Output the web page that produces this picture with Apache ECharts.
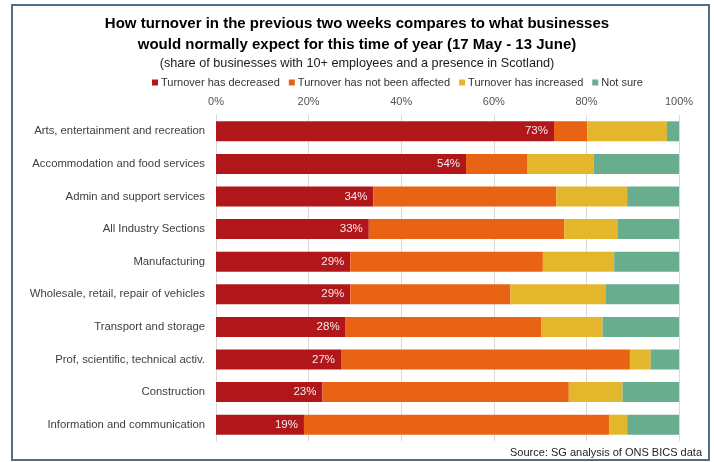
<!DOCTYPE html>
<html>
<head>
<meta charset="utf-8">
<script src="https://cdn.jsdelivr.net/npm/echarts@6/dist/echarts.min.js"></script>
<style>
  html, body { margin: 0; padding: 0; background: #fff; }
  #chart { width: 714px; height: 462px; }
</style>
</head>
<body>
<div id="chart"></div>
<script>
// Industry sections, top to bottom
var categories = [
  'Arts, entertainment and recreation',
  'Accommodation and food services',
  'Admin and support services',
  'All Industry Sections',
  'Manufacturing',
  'Wholesale, retail, repair of vehicles',
  'Transport and storage',
  'Prof, scientific, technical activ.',
  'Construction',
  'Information and communication'
];

// Share of businesses (%) per turnover response
var decreased   = [73, 54, 34, 33, 29, 29, 28, 27, 23, 19];
var notAffected = [7.2, 13.3, 39.5, 42.2, 41.6, 34.6, 42.2, 62.4, 53.2, 65.9];
var increased   = [17.2, 14.3, 15.3, 11.5, 15.4, 20.5, 13.3, 4.5, 11.6, 3.9];
var notSure     = [2.6, 18.4, 11.2, 13.3, 14.0, 15.9, 16.5, 6.1, 12.2, 11.2];

var seriesNames = ['Turnover has decreased', 'Turnover has not been affected', 'Turnover has increased', 'Not sure'];
var seriesColors = ['#b0161a', '#e86314', '#e4b62b', '#69ad8f'];
var tickValues = [0, 20, 40, 60, 80, 100];

var FONT = '"Liberation Sans", Arial, sans-serif';
var chart = echarts.init(document.getElementById('chart'), null, { renderer: 'canvas' });

function bar(name, data, color, withLabel) {
  return {
    name: name,
    type: 'bar',
    stack: 'total',
    data: data,
    barWidth: 20,
    itemStyle: { color: color },
    label: withLabel ? {
      show: true,
      position: 'insideRight',
      distance: 6,
      color: '#f4ecec',
      fontFamily: FONT,
      fontSize: 11.5,
      formatter: function (p) { return Math.round(p.value) + '%'; }
    } : { show: false },
    emphasis: { disabled: true }
  };
}

chart.setOption({
  animation: false,
  backgroundColor: '#ffffff',
  textStyle: { fontFamily: FONT },
  title: [
    {
      text: 'How turnover in the previous two weeks compares to what businesses\nwould normally expect for this time of year (17 May - 13 June)',
      left: 'center',
      top: 8,
      textStyle: { fontFamily: FONT, fontSize: 15, fontWeight: 'bold', color: '#000', lineHeight: 21 }
    },
    {
      text: '(share of businesses with 10+ employees and a presence in Scotland)',
      left: 'center',
      top: 52,
      textStyle: { fontFamily: FONT, fontSize: 12.7, fontWeight: 'normal', color: '#1a1a1a' }
    }
  ],
  legend: {
    data: seriesNames,
    left: 147,
    top: 72,
    icon: 'rect',
    itemWidth: 6,
    itemHeight: 6,
    itemGap: 9,
    textStyle: { fontFamily: FONT, fontSize: 11, color: '#333', padding: [0, 0, 0, -2] }
  },
  grid: { left: 216, right: 35, top: 115, bottom: 21, containLabel: false },
  xAxis: {
    type: 'value',
    position: 'top',
    min: tickValues[0],
    max: tickValues[tickValues.length - 1],
    interval: tickValues[1] - tickValues[0],
    axisLabel: { formatter: '{value}%', fontFamily: FONT, fontSize: 11, color: '#555', margin: 8 },
    axisLine: { show: false },
    axisTick: { show: false },
    splitLine: { show: true, lineStyle: { color: '#d9d9d9', width: 1 } }
  },
  yAxis: {
    type: 'category',
    data: categories,
    inverse: true,
    axisLine: { show: true, lineStyle: { color: '#d9d9d9' } },
    axisTick: { show: false },
    axisLabel: { fontFamily: FONT, fontSize: 11.3, color: '#404040', margin: 11 }
  },
  series: [
    bar(seriesNames[0], decreased, seriesColors[0], true),
    bar(seriesNames[1], notAffected, seriesColors[1], false),
    bar(seriesNames[2], increased, seriesColors[2], false),
    bar(seriesNames[3], notSure, seriesColors[3], false)
  ],
  graphic: [
    {
      type: 'rect',
      shape: { x: 12, y: 5, width: 697, height: 455 },
      style: { fill: 'none', stroke: '#506f85', lineWidth: 2 },
      silent: true
    },
    {
      type: 'text',
      right: 12,
      top: 447,
      style: { text: 'Source: SG analysis of ONS BICS data', font: '11px ' + FONT, fill: '#222' },
      silent: true
    }
  ]
});
</script>
</body>
</html>
